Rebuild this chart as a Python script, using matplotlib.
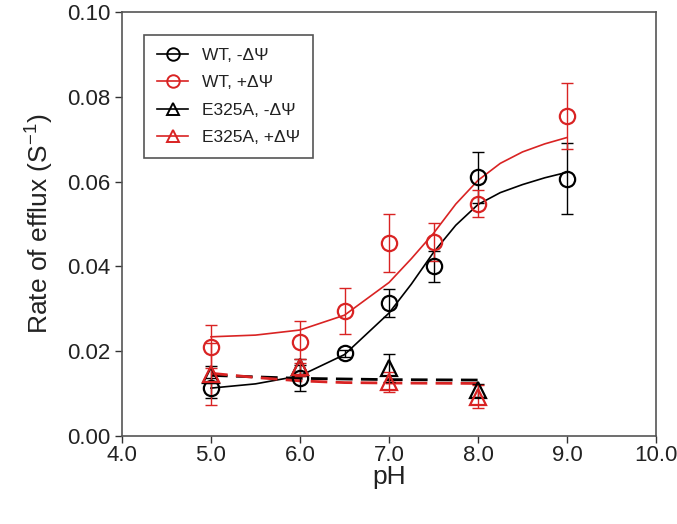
import matplotlib
matplotlib.use("Agg")
import matplotlib.pyplot as plt
from matplotlib.lines import Line2D
from matplotlib.ticker import FormatStrFormatter

plt.rcParams['font.family'] = ['Liberation Sans', 'DejaVu Sans']
plt.rcParams['mathtext.default'] = 'regular'

# ---- data ----
ph_wt = [5.0, 6.0, 6.5, 7.0, 7.5, 8.0, 9.0]
wt_minus = [0.0113, 0.0137, 0.0195, 0.0314, 0.0400, 0.0610, 0.0607]
wt_minus_err = [0.0024, 0.0031, 0.0008, 0.0033, 0.0037, 0.0060, 0.0083]
wt_plus = [0.0211, 0.0222, 0.0295, 0.0456, 0.0458, 0.0548, 0.0754]
wt_plus_err = [0.0050, 0.0050, 0.0054, 0.0068, 0.0045, 0.0032, 0.0078]

ph_mut = [5.0, 6.0, 7.0, 8.0]
mut_minus = [0.0145, 0.0162, 0.0161, 0.0108]
mut_minus_err = [0.0020, 0.0020, 0.0033, 0.0015]
mut_plus = [0.0147, 0.0162, 0.0127, 0.0093]
mut_plus_err = [0.0073, 0.0020, 0.0023, 0.0027]

# fitted curves
fit_ph = [5.0, 5.5, 6.0, 6.5, 7.0, 7.25, 7.5, 7.75, 8.0, 8.25, 8.5, 8.75, 9.0]
fit_wt_minus = [0.0113, 0.0123, 0.0142, 0.0192, 0.0290, 0.0358, 0.0433, 0.0497, 0.0546,
                0.0574, 0.0593, 0.0609, 0.0622]
fit_wt_plus = [0.0234, 0.0238, 0.0250, 0.0285, 0.0362, 0.0418, 0.0478, 0.0547, 0.0603,
               0.0643, 0.0670, 0.0689, 0.0704]
fit_mut_minus_ph = [5.0, 6.0, 7.0, 8.0]
fit_mut_minus = [0.0143, 0.0136, 0.0133, 0.0132]
fit_mut_plus_ph = [5.0, 5.5, 6.0, 6.5, 7.0, 8.0]
fit_mut_plus = [0.0148, 0.0138, 0.0130, 0.0126, 0.0125, 0.0124]

labels = ["WT, -\u0394\u03a8", "WT, +\u0394\u03a8", "E325A, -\u0394\u03a8", "E325A, +\u0394\u03a8"]
xticks = [4.0, 5.0, 6.0, 7.0, 8.0, 9.0, 10.0]
yticks = [0.00, 0.02, 0.04, 0.06, 0.08, 0.10]

BLACK = '#000000'
RED = '#d92323'

fig = plt.figure(figsize=(6.77, 5.24), dpi=100)
ax = fig.add_axes([0.1802, 0.1679, 0.7888, 0.8092])

ms = 11
mew = 1.6
cap = 4.6

# fit lines
ax.plot(fit_ph, fit_wt_minus, color=BLACK, lw=1.2, zorder=2)
ax.plot(fit_ph, fit_wt_plus, color=RED, lw=1.2, zorder=2)
ax.plot(fit_mut_minus_ph, fit_mut_minus, color=BLACK, lw=2.0, ls=(0, (6, 3)), zorder=2)
ax.plot(fit_mut_plus_ph, fit_mut_plus, color=RED, lw=2.0, ls=(0, (6, 3)), zorder=2)

# data with error bars
def series(x, y, e, color, marker):
    ax.errorbar(x, y, yerr=e, fmt='none', ecolor=color, elinewidth=1.0,
                capsize=cap, capthick=1.0, zorder=3)
    ax.plot(x, y, ls='none', marker=marker, ms=ms, mfc='none', mec=color,
            mew=mew, zorder=4)

series(ph_wt, wt_minus, wt_minus_err, BLACK, 'o')
series(ph_mut, mut_minus, mut_minus_err, BLACK, '^')
series(ph_wt, wt_plus, wt_plus_err, RED, 'o')
series(ph_mut, mut_plus, mut_plus_err, RED, '^')

ax.set_xlim(4.0, 10.0)
ax.set_ylim(0.0, 0.10)
ax.set_xticks(xticks)
ax.set_yticks(yticks)
ax.xaxis.set_major_formatter(FormatStrFormatter('%.1f'))
ax.yaxis.set_major_formatter(FormatStrFormatter('%.2f'))
ax.tick_params(direction='out', length=5, width=1, labelsize=16, colors='#333333',
               labelcolor='#222222', top=False, right=False)
ax.tick_params(axis='x', pad=1.5)
for s in ax.spines.values():
    s.set_color('#555555')
    s.set_linewidth(1.2)

ax.set_xlabel('pH', fontsize=19, color='#222222', labelpad=-1)
ax.set_ylabel('Rate of efflux (S$^{-1}$)', fontsize=19, color='#222222', labelpad=8)

handles = [
    Line2D([], [], color=BLACK, lw=1.2, marker='o', ms=9, mfc='none', mec=BLACK, mew=1.4),
    Line2D([], [], color=RED, lw=1.2, marker='o', ms=9, mfc='none', mec=RED, mew=1.4),
    Line2D([], [], color=BLACK, lw=1.2, marker='^', ms=9, mfc='none', mec=BLACK, mew=1.4),
    Line2D([], [], color=RED, lw=1.2, marker='^', ms=9, mfc='none', mec=RED, mew=1.4),
]
leg = ax.legend(handles, labels, loc='upper left', bbox_to_anchor=(0.041, 0.946),
                borderaxespad=0, fancybox=False, framealpha=1, edgecolor='#555555',
                fontsize=12.5, handlelength=1.8, labelspacing=0.7, borderpad=0.75,
                handletextpad=0.8)
leg.get_frame().set_linewidth(1.2)
for t in leg.get_texts():
    t.set_color('#222222')

fig.savefig('out.png', dpi=100)
